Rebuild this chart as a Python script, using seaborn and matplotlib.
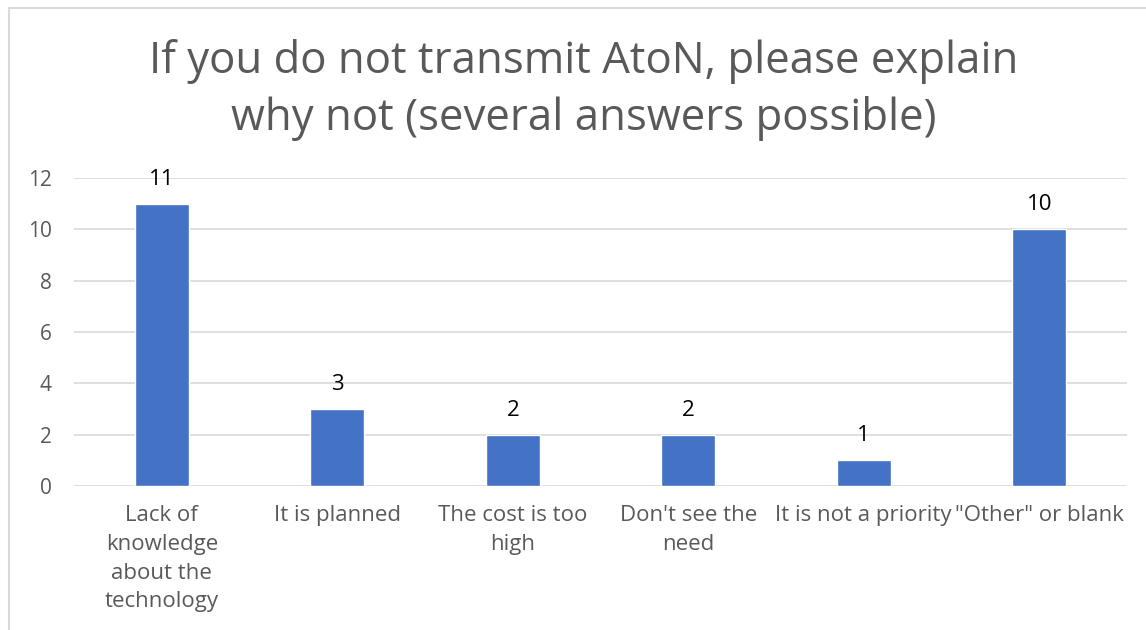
import matplotlib
matplotlib.use("Agg")
import matplotlib.pyplot as plt
import seaborn as sns
import pandas as pd
from matplotlib.patches import Rectangle

# survey answers
categories = [
    "Lack of\nknowledge\nabout the\ntechnology",
    "It is planned",
    "The cost is too\nhigh",
    "Don't see the\nneed",
    "It is not a priority",
    "\"Other\" or blank",
]
counts = [11, 3, 2, 2, 1, 10]
y_ticks = [0, 2, 4, 6, 8, 10, 12]

df = pd.DataFrame({"reason": categories, "count": counts})

sns.set_style("white")
plt.rcParams["font.family"] = ["Open Sans", "DejaVu Sans"]

fig = plt.figure(figsize=(11.46, 6.3), dpi=100)
ax = fig.add_axes([0.0646, 0.2286, 0.9188, 0.4889])

sns.barplot(data=df, x="reason", y="count", color="#4472C4", width=0.31,
            saturation=1, ax=ax, zorder=3)

# data labels above bars
for c in ax.containers:
    ax.bar_label(c, fmt="%d", padding=10, fontsize=16, color="#000000")

ax.set_ylim(0, 12)
ax.set_yticks(y_ticks)
ax.yaxis.grid(True, color="#D9D9D9", linewidth=1.2, zorder=0)
ax.set_axisbelow(True)
for s in ax.spines.values():
    s.set_visible(False)
ax.set_xlabel("")
ax.set_ylabel("")
ax.tick_params(axis="y", labelsize=15, colors="#595959", length=0, pad=16)
ax.tick_params(axis="x", labelsize=16, colors="#595959", length=0, pad=14)
for lbl in ax.get_xticklabels():
    lbl.set_linespacing(1.48)

fig.text(0.509, 0.857, "If you do not transmit AtoN, please explain\nwhy not (several answers possible)",
         ha="center", va="center", fontsize=31.5, color="#595959", linespacing=1.33)

# chart frame (partially cropped)
fig.patches.append(Rectangle((9 / 1146, -0.1), 1.2, 1 - 8 / 630 + 0.1,
                             transform=fig.transFigure, fill=False,
                             edgecolor="#D9D9D9", linewidth=1.5))

fig.savefig("out.png", dpi=100)
